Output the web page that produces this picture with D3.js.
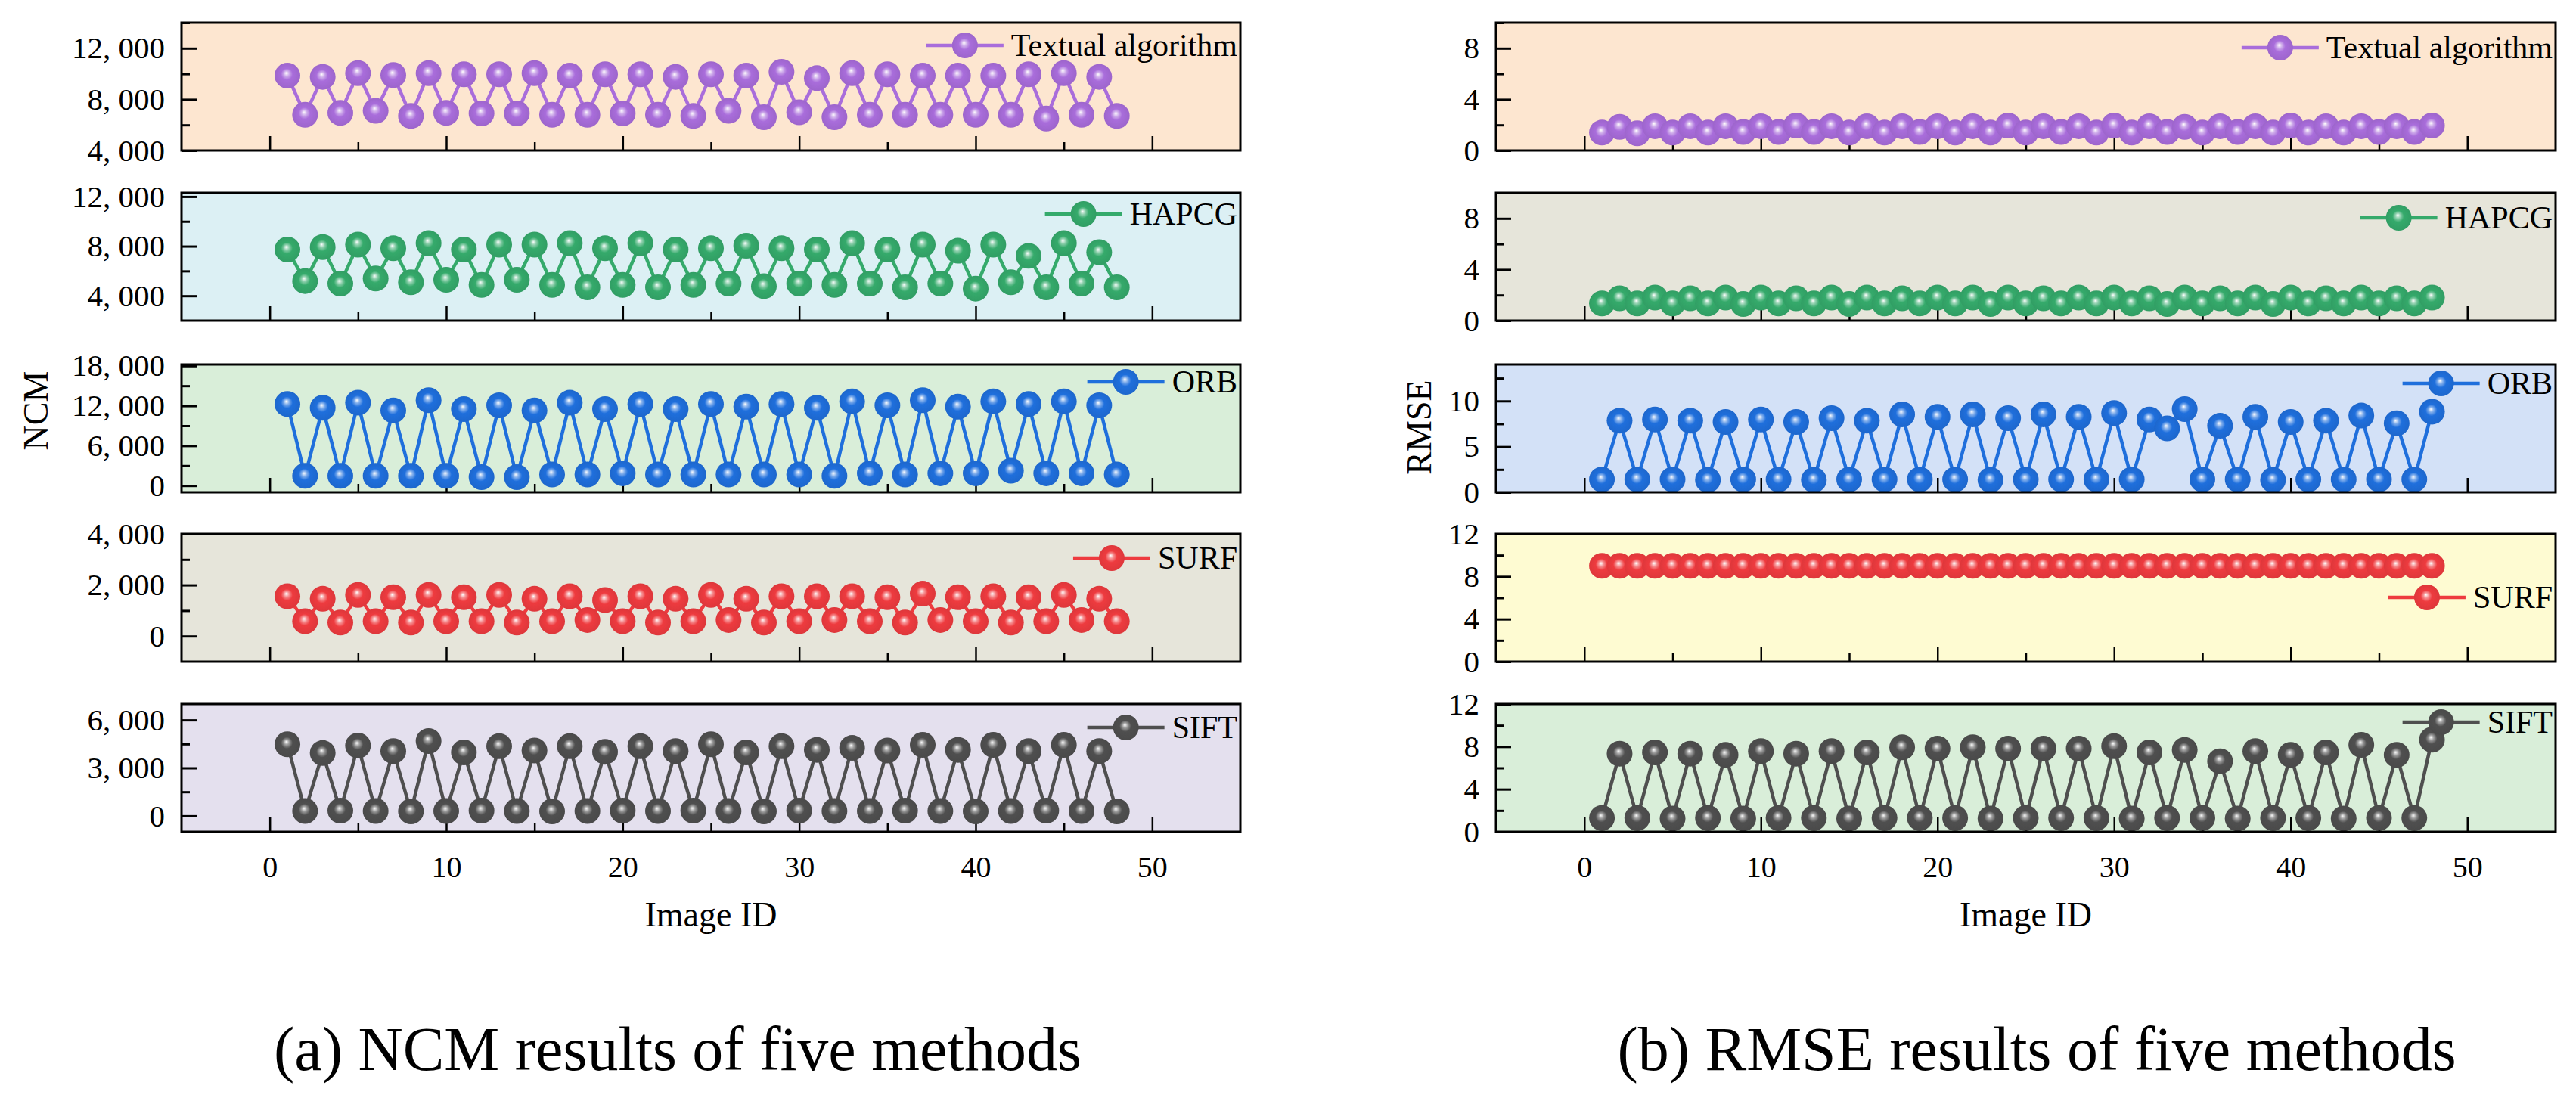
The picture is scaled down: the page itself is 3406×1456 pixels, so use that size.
<!DOCTYPE html>
<html>
<head>
<meta charset="utf-8">
<script src="https://cdn.jsdelivr.net/npm/d3@7/dist/d3.min.js"></script>
<style>
  body { margin: 0; background: #fff; }
  text { font-family: "Liberation Serif", "Times New Roman", serif; fill: #000; }
</style>
</head>
<body>
<svg id="chart" width="3406" height="1456"></svg>
<script>
// image ids on the x axis
var imageIds = d3.range(1, 49);
var methods = ["Textual algorithm", "HAPCG", "ORB", "SURF", "SIFT"];

// NCM values
var textualNCM = [9860, 6800, 9760, 6940, 10050, 7100, 9900, 6700, 10050, 6940, 9960, 6900, 9960, 6900, 10050, 6800,
                  9860, 6800, 9960, 6900, 9960, 6800, 9760, 6700, 9960, 7100, 9860, 6600, 10150, 6990, 9660, 6600,
                  10050, 6800, 9960, 6800, 9860, 6800, 9860, 6800, 9860, 6800, 9960, 6500, 10050, 6800, 9760, 6700];
var hapcgNCM = [7730, 5190, 7930, 4990, 8130, 5400, 7830, 5090, 8240, 5290, 7730, 4880, 8130, 5290, 8130, 4880,
                8240, 4680, 7830, 4880, 8240, 4680, 7730, 4880, 7830, 4990, 8030, 4780, 7830, 4990, 7730, 4880,
                8240, 4990, 7730, 4680, 8130, 4990, 7630, 4580, 8130, 5090, 7220, 4680, 8240, 4990, 7520, 4680];
var orbNCM = [12270, 1470, 11690, 1470, 12460, 1470, 11300, 1470, 12840, 1470, 11490, 1280, 12070, 1280, 11300, 1660,
              12450, 1660, 11490, 1850, 12270, 1660, 11490, 1660, 12270, 1660, 11870, 1660, 12270, 1660, 11690, 1470,
              12650, 1850, 12070, 1660, 12840, 1850, 11870, 1850, 12650, 2240, 12270, 1850, 12650, 1850, 12070, 1660];
var surfNCM = [1560, 580, 1460, 530, 1610, 580, 1520, 530, 1610, 580, 1520, 580, 1610, 530, 1460, 580,
               1560, 630, 1410, 580, 1560, 530, 1460, 580, 1610, 630, 1460, 530, 1560, 580, 1560, 630,
               1560, 580, 1520, 530, 1660, 630, 1520, 580, 1560, 530, 1520, 580, 1610, 630, 1460, 580];
var siftNCM = [4480, 300, 3930, 320, 4400, 300, 4050, 280, 4680, 300, 3970, 320, 4360, 300, 4090, 280,
               4360, 300, 4010, 320, 4360, 300, 4050, 320, 4480, 300, 3970, 280, 4360, 320, 4130, 300,
               4250, 300, 4090, 320, 4440, 300, 4130, 280, 4440, 300, 4050, 320, 4440, 300, 4050, 280];

// RMSE values
var textualRMSE = [1.40, 1.85, 1.35, 1.90, 1.40, 1.90, 1.40, 1.90, 1.45, 1.90, 1.45, 1.95, 1.45, 1.90, 1.40, 1.90,
                   1.40, 1.90, 1.45, 1.90, 1.40, 1.90, 1.40, 1.95, 1.40, 1.90, 1.45, 1.90, 1.40, 1.95, 1.40, 1.90,
                   1.45, 1.85, 1.40, 1.90, 1.45, 1.90, 1.40, 1.95, 1.40, 1.90, 1.40, 1.90, 1.45, 1.90, 1.45, 1.95];
var hapcgRMSE = [1.35, 1.75, 1.35, 1.80, 1.35, 1.75, 1.35, 1.80, 1.30, 1.80, 1.35, 1.75, 1.35, 1.80, 1.30, 1.80,
                 1.35, 1.75, 1.35, 1.80, 1.35, 1.80, 1.30, 1.80, 1.35, 1.75, 1.35, 1.80, 1.35, 1.80, 1.35, 1.75,
                 1.30, 1.80, 1.35, 1.75, 1.35, 1.80, 1.30, 1.80, 1.35, 1.75, 1.35, 1.80, 1.35, 1.75, 1.35, 1.80];
var orbRMSE = [1.40, 7.84, 1.40, 7.98, 1.40, 7.84, 1.35, 7.70, 1.40, 7.98, 1.40, 7.70, 1.35, 8.12, 1.40, 7.84,
               1.40, 8.54, 1.40, 8.26, 1.40, 8.54, 1.35, 8.12, 1.40, 8.54, 1.40, 8.26, 1.40, 8.68, 1.40, 7.98,
               7.00, 9.11, 1.40, 7.28, 1.40, 8.26, 1.35, 7.70, 1.40, 7.84, 1.40, 8.40, 1.40, 7.56, 1.40, 8.83];
var surfRMSE = [9.0, 9.0, 9.0, 9.0, 9.0, 9.0, 9.0, 9.0, 9.0, 9.0, 9.0, 9.0, 9.0, 9.0, 9.0, 9.0,
                9.0, 9.0, 9.0, 9.0, 9.0, 9.0, 9.0, 9.0, 9.0, 9.0, 9.0, 9.0, 9.0, 9.0, 9.0, 9.0,
                9.0, 9.0, 9.0, 9.0, 9.0, 9.0, 9.0, 9.0, 9.0, 9.0, 9.0, 9.0, 9.0, 9.0, 9.0, 9.0];
var siftRMSE = [1.30, 7.34, 1.30, 7.46, 1.25, 7.34, 1.30, 7.22, 1.25, 7.58, 1.30, 7.34, 1.30, 7.58, 1.25, 7.46,
                1.30, 7.93, 1.30, 7.81, 1.30, 7.93, 1.25, 7.81, 1.30, 7.81, 1.30, 7.81, 1.30, 8.05, 1.25, 7.46,
                1.30, 7.69, 1.30, 6.63, 1.25, 7.58, 1.30, 7.22, 1.30, 7.46, 1.25, 8.17, 1.30, 7.22, 1.30, 8.64];

// axis ranges and tick values
var xDomain = [-5, 55];
var xTicks = [0, 10, 20, 30, 40, 50];
var xMinor = [5, 15, 25, 35, 45];
var ncmDomains = [[4000, 14000], [2000, 12300], [-1000, 18200], [-1000, 4000], [-1000, 7000]];
var ncmTicks = [[4000, 8000, 12000], [4000, 8000, 12000], [0, 6000, 12000, 18000], [0, 2000, 4000], [0, 3000, 6000]];
var ncmMinor = [[6000, 10000, 14000], [6000, 10000], [3000, 9000, 15000], [1000, 3000], [1500, 4500]];
var rmseDomains = [[0, 10], [0, 10], [0, 14], [0, 12], [0, 12]];
var rmseTicks = [[0, 4, 8], [0, 4, 8], [0, 5, 10], [0, 4, 8, 12], [0, 4, 8, 12]];
var rmseMinor = [[2, 6, 10], [2, 6, 10], [2.5, 7.5, 12.5], [2, 6, 10], [2, 6, 10]];

var colors = ["#a96ddb", "#35aa6b", "#1f6fdc", "#ee3b3f", "#4f4f4f"];

var svg = d3.select("#chart");
var defs = svg.append("defs");

// ball markers: solid colour with a light spot
colors.forEach(function (c, i) {
    var g = defs.append("radialGradient")
        .attr("id", "ball" + i)
        .attr("cx", "50%").attr("cy", "50%").attr("r", "50%")
        .attr("fx", "46%").attr("fy", "40%");
    g.append("stop").attr("offset", "0%").attr("stop-color", "#ffffff").attr("stop-opacity", 0.95);
    g.append("stop").attr("offset", "20%").attr("stop-color", d3.interpolateRgb(c, "#ffffff")(0.45));
    g.append("stop").attr("offset", "45%").attr("stop-color", c);
    g.append("stop").attr("offset", "100%").attr("stop-color", d3.color(c).darker(0.2));
});

var panelTops = [30, 255, 482, 706, 931];
var panelH = 169;
var ballR = 17;

function fmtNcm(v) {
    return v >= 1000 ? d3.format(",")(v).replace(",", ", ") : String(v);
}

function drawChart(cfg) {
    var w = cfg.x1 - cfg.x0;
    var x = d3.scaleLinear().domain(xDomain).range([0, w]);

    cfg.series.forEach(function (vals, i) {
        var panel = svg.append("g")
            .attr("transform", "translate(" + cfg.x0 + "," + panelTops[i] + ")");

        var y = d3.scaleLinear().domain(cfg.domains[i]).range([panelH, 0]);

        panel.append("rect")
            .attr("width", w).attr("height", panelH)
            .attr("fill", cfg.bgs[i]);

        // y ticks (inside)
        var ya = panel.append("g")
            .call(d3.axisLeft(y).tickValues(cfg.ticks[i]).tickSizeInner(-20).tickSizeOuter(0)
                .tickPadding(22).tickFormat(cfg.fmt));
        ya.select(".domain").remove();
        ya.attr("font-size", 41).attr("font-family", null);
        ya.selectAll("line").attr("stroke", "#000").attr("stroke-width", 3);

        var ym = panel.append("g")
            .call(d3.axisLeft(y).tickValues(cfg.minors[i]).tickSizeInner(-11).tickSizeOuter(0).tickFormat(""));
        ym.select(".domain").remove();
        ym.selectAll("line").attr("stroke", "#000").attr("stroke-width", 3);

        // x ticks (inside)
        var last = i === cfg.series.length - 1;
        var xa = panel.append("g")
            .attr("transform", "translate(0," + panelH + ")")
            .call(d3.axisBottom(x).tickValues(xTicks).tickSizeInner(-19).tickSizeOuter(0)
                .tickPadding(32).tickFormat(last ? d3.format("d") : ""));
        xa.select(".domain").remove();
        xa.attr("font-size", 40).attr("font-family", null);
        xa.selectAll("line").attr("stroke", "#000").attr("stroke-width", 2.5);

        var xm = panel.append("g")
            .attr("transform", "translate(0," + panelH + ")")
            .call(d3.axisBottom(x).tickValues(xMinor).tickSizeInner(-11).tickSizeOuter(0).tickFormat(""));
        xm.select(".domain").remove();
        xm.selectAll("line").attr("stroke", "#000").attr("stroke-width", 2.5);

        // line + markers
        var pts = imageIds.map(function (id, k) { return [id, vals[k]]; });
        panel.append("path")
            .datum(pts)
            .attr("fill", "none")
            .attr("stroke", colors[i])
            .attr("stroke-width", 4.5)
            .attr("d", d3.line().x(function (d) { return x(d[0]); }).y(function (d) { return y(d[1]); }));

        panel.selectAll(".ball")
            .data(pts)
            .enter()
            .append("circle")
            .attr("class", "ball")
            .attr("cx", function (d) { return x(d[0]); })
            .attr("cy", function (d) { return y(d[1]); })
            .attr("r", ballR)
            .attr("fill", "url(#ball" + i + ")");

        // legend, top right
        var ly = cfg.legendY[i];
        var lt = panel.append("text")
            .attr("x", w - 4).attr("y", ly)
            .attr("dy", "0.34em")
            .attr("text-anchor", "end")
            .attr("font-size", 42)
            .text(methods[i]);
        var tx = w - 4 - lt.node().getComputedTextLength() - 10;
        panel.append("line")
            .attr("x1", tx - 102).attr("x2", tx)
            .attr("y1", ly).attr("y2", ly)
            .attr("stroke", colors[i]).attr("stroke-width", 4.5);
        panel.append("circle")
            .attr("cx", tx - 51).attr("cy", ly).attr("r", ballR)
            .attr("fill", "url(#ball" + i + ")");

        // frame
        panel.append("rect")
            .attr("width", w).attr("height", panelH)
            .attr("fill", "none")
            .attr("stroke", "#000").attr("stroke-width", 3);
    });

    svg.append("text")
        .attr("transform", "translate(" + cfg.titleX + "," + cfg.titleY + ") rotate(-90)")
        .attr("text-anchor", "middle")
        .attr("dy", "0.35em")
        .attr("font-size", 46)
        .text(cfg.yTitle);

    svg.append("text")
        .attr("x", (cfg.x0 + cfg.x1) / 2).attr("y", 1225)
        .attr("text-anchor", "middle")
        .attr("font-size", 46)
        .text("Image ID");

    svg.append("text")
        .attr("x", cfg.captionX).attr("y", 1415)
        .attr("text-anchor", "middle")
        .attr("font-size", 82)
        .text(cfg.caption);
}

drawChart({
    x0: 240, x1: 1640,
    series: [textualNCM, hapcgNCM, orbNCM, surfNCM, siftNCM],
    domains: ncmDomains, ticks: ncmTicks, minors: ncmMinor,
    fmt: fmtNcm,
    bgs: ["#fde6d0", "#dcf0f4", "#d9eed9", "#e6e5da", "#e4e0ee"],
    legendY: [30, 28, 23, 32, 31],
    yTitle: "NCM", titleX: 47, titleY: 543,
    caption: "(a) NCM results of five methods", captionX: 896
});

drawChart({
    x0: 1978, x1: 3379,
    series: [textualRMSE, hapcgRMSE, orbRMSE, surfRMSE, siftRMSE],
    domains: rmseDomains, ticks: rmseTicks, minors: rmseMinor,
    fmt: function (v) { return String(v); },
    bgs: ["#fde6d0", "#e6e5da", "#d3e1f7", "#fefbd2", "#d9eed9"],
    legendY: [33, 33, 25, 84, 24],
    yTitle: "RMSE", titleX: 1876, titleY: 565,
    caption: "(b) RMSE results of five methods", captionX: 2693
});
</script>
</body>
</html>
